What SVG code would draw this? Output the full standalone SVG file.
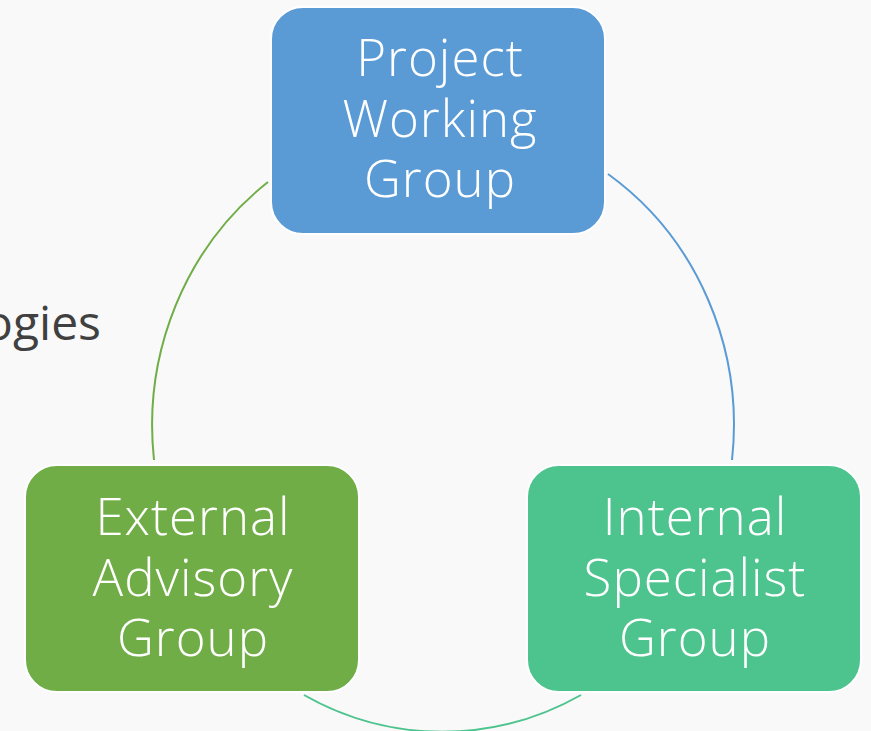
<svg xmlns="http://www.w3.org/2000/svg" width="871" height="731" viewBox="0 0 871 731">
<style>
.box{stroke:#ffffff;stroke-width:2}
.lbl{font-family:"Open Sans","Lato","Liberation Sans",sans-serif;font-weight:300;font-size:51px;letter-spacing:1px;fill:#ffffff;text-anchor:middle}
.arc{fill:none;stroke-width:2}
</style>
<rect width="871" height="731" fill="#f9f9f9"/>
<text x="101" y="340" font-family="Open Sans, Liberation Sans, sans-serif" font-size="48" fill="#404040" text-anchor="end">ogies</text>
<g id="connectors">
<path class="arc" stroke="#5b9bd5" d="M608,174 A291,305 0 0 1 732,460"/>
<path class="arc" stroke="#4dc38d" d="M581,695 A291,305 0 0 1 304,695"/>
<path class="arc" stroke="#70ad47" d="M154,460 A291,305 0 0 1 268,182"/>
</g>
<g id="project-working-group">
<rect class="box" x="271" y="7" width="334" height="227" rx="32" fill="#5b9bd5"/>
<text class="lbl" x="440" y="76">Project</text>
<text class="lbl" x="440" y="137">Working</text>
<text class="lbl" x="440" y="197">Group</text>
</g>
<g id="external-advisory-group">
<rect class="box" x="25" y="465" width="334" height="227" rx="32" fill="#70ad47"/>
<text class="lbl" x="193" y="535">External</text>
<text class="lbl" x="193" y="596">Advisory</text>
<text class="lbl" x="193" y="656">Group</text>
</g>
<g id="internal-specialist-group">
<rect class="box" x="527" y="465" width="334" height="227" rx="32" fill="#4dc38d"/>
<text class="lbl" x="695" y="535">Internal</text>
<text class="lbl" x="695" y="596">Specialist</text>
<text class="lbl" x="695" y="656">Group</text>
</g>
</svg>
